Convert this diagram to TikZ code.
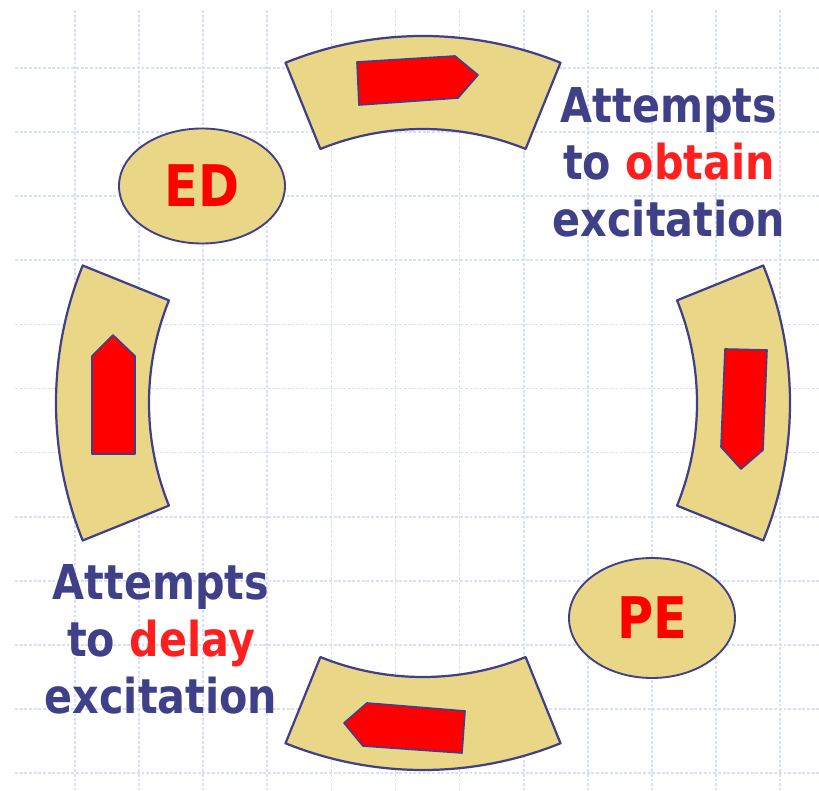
\documentclass[tikz,border=0pt]{standalone}
\usepackage{fontspec}
\usepackage{tikz}
\usepackage{xcolor}
\usetikzlibrary{shapes.geometric}
\newfontfamily\slidefont[FakeStretch=0.86]{DejaVu Sans}
\definecolor{rgtan}{HTML}{EAD687}
\definecolor{rgblue}{HTML}{3F3F8A}
\definecolor{rggrid}{HTML}{D6E0FB}
\definecolor{rgtext}{HTML}{3F4088}
\definecolor{rgred}{HTML}{FF0000}
\definecolor{rgredt}{HTML}{FF1F1F}
\tikzset{
  gridline/.style = {draw=rggrid, line width=1.4pt, dash pattern=on 2.5pt off 1.5pt},
  piece/.style    = {draw=rgblue, fill=rgtan, line width=1.9pt, line join=round},
  pointer/.style  = {draw=rgblue, fill=rgred, line width=1.4pt, line join=round},
  cell/.style     = {ellipse, draw=rgblue, fill=rgtan, line width=1.6pt,
                     inner sep=0pt, text=rgred,
                     font=\slidefont\bfseries\fontsize{49}{55}\selectfont},
  caption/.style  = {align=center, text=rgtext, inner sep=0pt,
                     font=\slidefont\bfseries\fontsize{41}{48.7}\selectfont},
}

\begin{document}
\begin{tikzpicture}
  \useasboundingbox (-12.69,-11.61) rectangle (11.88,12.09);

  % ---------- background grid -------------------------------------------
  \foreach \k in {0,...,11} {
    \draw[gridline] (-10.44+1.923*\k, 11.79) -- (-10.44+1.923*\k,-11.61);
    \draw[gridline] (-12.24, 10.05-1.923*\k) -- (11.88, 10.05-1.923*\k);
  }

  % ---------- ring pieces (inner radius 8.22, outer radius 11.01) -------
  % top
  \draw[piece] (68:8.22) arc[start angle=68, end angle=112, radius=8.22]
    -- (112:11.01) arc[start angle=112, end angle=68, radius=11.01] -- cycle;
  % right
  \draw[piece] (-22:8.22) arc[start angle=-22, end angle=22, radius=8.22]
    -- (22:11.01) arc[start angle=22, end angle=-22, radius=11.01] -- cycle;
  % bottom
  \draw[piece] (248:8.22) arc[start angle=248, end angle=292, radius=8.22]
    -- (292:11.01) arc[start angle=292, end angle=248, radius=11.01] -- cycle;
  % left
  \draw[piece] (158:8.22) arc[start angle=158, end angle=202, radius=8.22]
    -- (202:11.01) arc[start angle=202, end angle=158, radius=11.01] -- cycle;

  % ---------- red pointers, running clockwise ---------------------------
  \draw[pointer] (-1.98,10.23) -- (0.96,10.41) -- (1.65,9.84)
    -- (1.05,9.15) -- (-1.92,8.94) -- cycle;
  \draw[pointer] (9.06,1.62) -- (10.32,1.59) -- (10.20,-1.41)
    -- (9.54,-1.98) -- (8.94,-1.32) -- cycle;
  \draw[pointer] (-1.68,-9.00) -- (1.26,-9.24) -- (1.17,-10.50)
    -- (-1.80,-10.29) -- (-2.37,-9.60) -- cycle;
  \draw[pointer] (-9.93,1.41) -- (-9.30,2.04) -- (-8.64,1.41)
    -- (-8.64,-1.53) -- (-9.93,-1.53) -- cycle;

  % ---------- states ----------------------------------------------------
  \node[cell, minimum width=4.98cm, minimum height=3.45cm] (ed) at (-6.63, 6.51) {ED};
  \node[cell, minimum width=4.98cm, minimum height=3.60cm] (pe) at ( 6.87,-6.45) {PE};

  % ---------- captions --------------------------------------------------
  \node[caption] (obtain) at ( 7.38, 7.23)
    {Attempts\\ to \textcolor{rgredt}{obtain}\\ excitation};
  \node[caption] (delay)  at (-7.86,-7.08)
    {Attempts\\ to \textcolor{rgredt}{delay}\\ excitation};

\end{tikzpicture}
\end{document}
